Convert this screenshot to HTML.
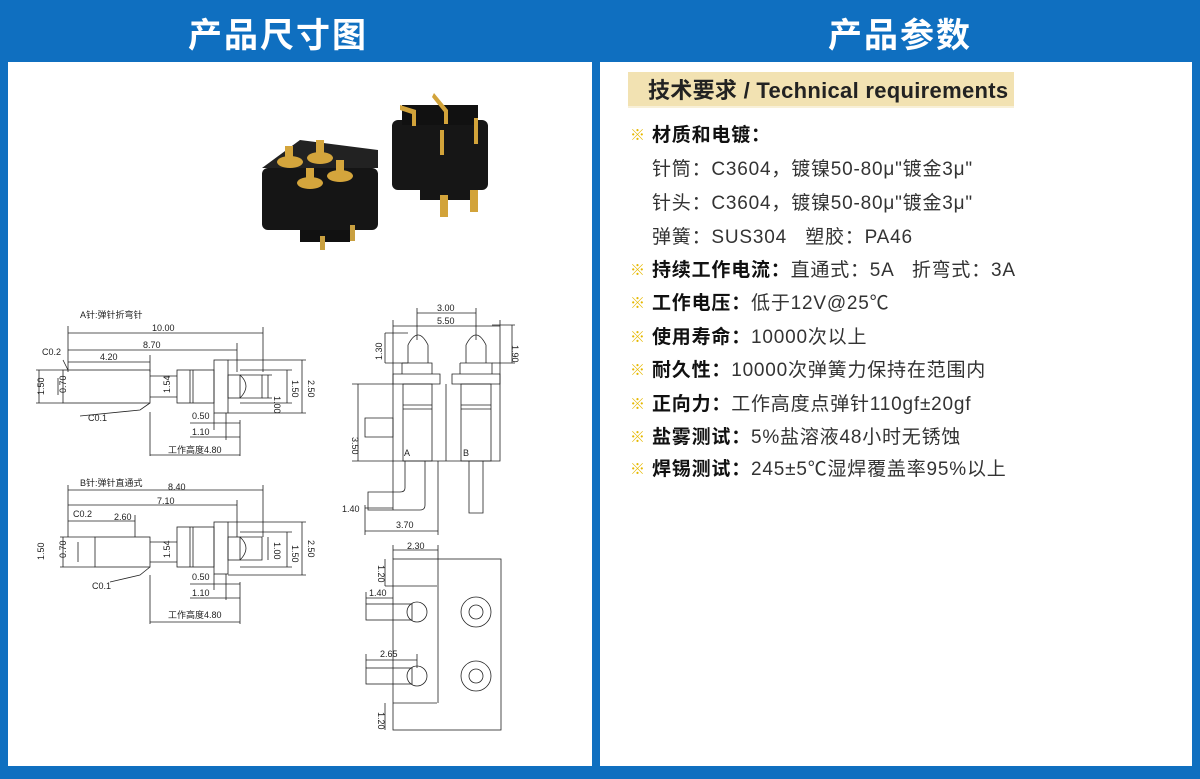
<!DOCTYPE html>
<html><head><meta charset="utf-8"><style>
body{margin:0;width:1200px;height:779px;background:#0f6fc0;overflow:hidden;font-family:"Liberation Sans","Noto Sans CJK SC",sans-serif;position:relative}
.h{position:absolute;top:8px;color:#fff;font-size:34px;font-weight:bold;font-family:"Noto Sans CJK SC","WenQuanYi Zen Hei",sans-serif;letter-spacing:2px}
.p{position:absolute;background:#fff}
.t{position:absolute;left:652px;font-size:19px;letter-spacing:0.8px;color:#333;white-space:nowrap;font-family:"Liberation Sans","Noto Sans CJK SC",sans-serif}
.t b{color:#111}
.s{position:absolute;left:630px;color:#e6b800;font-size:15px}
</style></head><body>
<div class="h" style="left:188px">产品尺寸图</div>
<div class="h" style="left:828px">产品参数</div>
<div class="p" style="left:8px;top:62px;width:584px;height:704px"></div>
<div class="p" style="left:600px;top:62px;width:592px;height:704px"></div>
<div style="position:absolute;left:628px;top:72px;width:386px;height:34px;background:#f2e2b2;border-bottom:2px solid #f8f0d8"></div>
<div style="position:absolute;left:648px;top:73px;font-size:22px;letter-spacing:0.3px;font-weight:bold;color:#222;font-family:'Liberation Sans','Noto Sans CJK SC',sans-serif">技术要求 / Technical requirements</div>
<span class="s" style="top:124px">※</span><div class="t" style="top:120px"><b>材质和电镀：</b></div>
<div class="t" style="top:154px">针筒：C3604，镀镍50-80μ"镀金3μ"</div>
<div class="t" style="top:188px">针头：C3604，镀镍50-80μ"镀金3μ"</div>
<div class="t" style="top:222px">弹簧：SUS304 &nbsp;&nbsp;塑胶：PA46</div>
<span class="s" style="top:259px">※</span><div class="t" style="top:255px"><b>持续工作电流：</b>直通式：5A &nbsp;&nbsp;折弯式：3A</div>
<span class="s" style="top:292px">※</span><div class="t" style="top:288px"><b>工作电压：</b>低于12V@25℃</div>
<span class="s" style="top:326px">※</span><div class="t" style="top:322px"><b>使用寿命：</b>10000次以上</div>
<span class="s" style="top:359px">※</span><div class="t" style="top:355px"><b>耐久性：</b>10000次弹簧力保持在范围内</div>
<span class="s" style="top:393px">※</span><div class="t" style="top:389px"><b>正向力：</b>工作高度点弹针110gf±20gf</div>
<span class="s" style="top:426px">※</span><div class="t" style="top:422px"><b>盐雾测试：</b>5%盐溶液48小时无锈蚀</div>
<span class="s" style="top:458px">※</span><div class="t" style="top:454px"><b>焊锡测试：</b>245±5℃湿焊覆盖率95%以上</div>

<svg style="position:absolute;left:0;top:0" width="600" height="779" font-family="Liberation Sans,Noto Sans CJK SC,sans-serif" font-size="10" fill="none" stroke="#222" stroke-width="0.8">
<!-- photo -->
<g stroke="none">
<rect x="262" y="168" width="116" height="62" rx="6" fill="#151515"/>
<polygon points="262,168 300,140 378,150 378,168" fill="#222"/>
<rect x="300" y="230" width="50" height="12" fill="#111"/>
<rect x="320" y="236" width="5" height="14" fill="#c9a040"/><rect x="350" y="225" width="5" height="16" fill="#c9a040"/>
<g fill="#d4a53c"><ellipse cx="290" cy="162" rx="13" ry="6"/><ellipse cx="320" cy="158" rx="13" ry="6"/><ellipse cx="310" cy="183" rx="13" ry="6"/><ellipse cx="340" cy="176" rx="13" ry="6"/>
<rect x="285" y="146" width="8" height="16"/><rect x="316" y="140" width="8" height="18"/><rect x="306" y="168" width="8" height="15"/><rect x="336" y="160" width="8" height="16"/></g>
<rect x="392" y="120" width="96" height="70" rx="6" fill="#161616"/>
<rect x="402" y="105" width="76" height="20" fill="#111"/>
<rect x="420" y="190" width="50" height="10" fill="#151515"/>
<g fill="#d2a33a"><rect x="440" y="195" width="8" height="22"/><rect x="470" y="190" width="8" height="22"/><rect x="440" y="130" width="4" height="25"/><rect x="474" y="118" width="4" height="26"/>
<polygon points="400,105 416,110 416,126 412,126 412,114 400,110"/><polygon points="434,93 448,110 448,124 444,124 444,112 432,97"/></g>
</g>
<g fill="#222" stroke="none" font-size="9">
<text x="80" y="318">A针:弹针折弯针</text>
<text x="152" y="331">10.00</text><text x="143" y="348">8.70</text><text x="100" y="360">4.20</text>
<text x="42" y="355">C0.2</text><text x="88" y="421">C0.1</text>
<text x="192" y="419">0.50</text><text x="192" y="435">1.10</text><text x="168" y="453">工作高度4.80</text>
<text x="80" y="486">B针:弹针直通式</text>
<text x="168" y="490">8.40</text><text x="157" y="504">7.10</text><text x="114" y="520">2.60</text>
<text x="73" y="517">C0.2</text><text x="92" y="589">C0.1</text>
<text x="192" y="580">0.50</text><text x="192" y="596">1.10</text><text x="168" y="618">工作高度4.80</text>
<text x="437" y="311">3.00</text><text x="437" y="324">5.50</text>
<text x="404" y="456">A</text><text x="463" y="456">B</text>
<text x="342" y="512">1.40</text><text x="396" y="528">3.70</text>
<text x="407" y="549">2.30</text><text x="369" y="596">1.40</text><text x="380" y="657">2.65</text>
</g>
<g fill="#222" stroke="none" font-size="9">
<text transform="translate(44,395) rotate(-90)">1.50</text><text transform="translate(66,393) rotate(-90)">0.70</text>
<text transform="translate(170,393) rotate(-90)">1.54</text><text transform="translate(274,396) rotate(90)">1.00</text>
<text transform="translate(292,380) rotate(90)">1.50</text><text transform="translate(308,380) rotate(90)">2.50</text>
<text transform="translate(44,560) rotate(-90)">1.50</text><text transform="translate(66,558) rotate(-90)">0.70</text>
<text transform="translate(170,558) rotate(-90)">1.54</text><text transform="translate(274,542) rotate(90)">1.00</text>
<text transform="translate(292,545) rotate(90)">1.50</text><text transform="translate(308,540) rotate(90)">2.50</text>
<text transform="translate(382,360) rotate(-90)">1.30</text><text transform="translate(512,345) rotate(90)">1.90</text>
<text transform="translate(352,437) rotate(90)">3.50</text>
<text transform="translate(378,565) rotate(90)">1.20</text><text transform="translate(378,712) rotate(90)">1.20</text>
</g>
<g>
<path d="M68 333H263M68 350H237M68 362H150M68 326V372M263 327V372M237 343V372M150 355V372"/>
<rect x="63" y="370" width="87" height="33"/><path d="M150 376H177M150 397H177"/>
<rect x="177" y="370" width="37" height="33"/><path d="M190 370V403M193 370V403"/>
<rect x="214" y="360" width="14" height="53"/><rect x="228" y="375" width="12" height="23"/>
<path d="M240 375H262V398H240M240 375Q252 386 240 398"/>
<path d="M36 370H63M36 403H63M39 370V403M58 378V395M268 375V398M287 370V403M302 360V413M262 375H272M262 398H272M240 370H292M240 403H292M228 360H306M228 413H306"/>
<path d="M63 360L68 370M150 403L140 410L80 416"/>
<path d="M190 423H240M214 413V430M226 413V440M190 437H240M150 412V456M240 420V456M150 455H240"/>
</g>
<g>
<path d="M68 490H263M68 505H237M68 521H135M68 485V537M263 485V537M237 500V537M135 515V537"/>
<rect x="95" y="537" width="55" height="30"/><path d="M150 542H177M150 562H177"/>
<rect x="177" y="527" width="37" height="40"/><path d="M190 527V567M193 527V567"/>
<rect x="214" y="522" width="14" height="52"/><rect x="228" y="537" width="12" height="23"/>
<path d="M240 537H262V560H240M240 537Q252 548 240 560"/>
<path d="M60 537H95M60 567H95M63 537V567M78 542V562M268 537V560M287 532V567M302 522V575M240 532H292M240 567H292M228 522H306M228 575H306"/>
<path d="M150 567L140 575L110 582"/>
<path d="M190 584H240M214 574V590M226 574V600M190 598H240M150 575V624M240 582V624M150 622H240"/>
</g>
<path d="M417 313H476M393 326H500M417 308V340M476 308V340M393 320V384M500 320V384"/>
<path d="M408 363V345Q418 325 428 345V363M402 363H432V374M402 363V374M393 374H440V384H393ZM452 374H500V384H452Z"/>
<path d="M466 363V345Q476 325 486 345V363M460 363H492V374M460 363V374"/>
<rect x="403" y="384" width="29" height="77"/><rect x="461" y="384" width="30" height="77"/>
<path d="M403 405H432M403 409H432M461 405H491M461 409H491M393 384V461H500V384M446 384V461"/>
<path d="M358 384V461M352 384H393M352 461H393M365 418H393V437H365Z"/>
<path d="M469 461V513H483V461M405 461V488Q405 492 400 492H368V510H420Q425 510 425 505V461M393 461V510M438 461V535M365 505V535M365 531H438M365 508H393"/>
<path d="M385 333H408M385 363H408M385 333V363M492 325H515M492 363H515M512 325V363"/>
<path d="M393 550H438M393 545V559M438 545V703"/>
<rect x="393" y="559" width="108" height="171"/>
<path d="M385 586H437M393 703H437M385 559V586M385 703V730"/>
<rect x="366" y="604" width="46" height="16"/><circle cx="417" cy="612" r="10"/>
<rect x="366" y="668" width="46" height="16"/><circle cx="417" cy="676" r="10"/>
<circle cx="476" cy="612" r="15"/><circle cx="476" cy="612" r="7"/>
<circle cx="476" cy="676" r="15"/><circle cx="476" cy="676" r="7"/>
<path d="M366 598H393M366 592V604M366 660H417M366 654V668M417 654V668"/>
</svg>
</body></html>
